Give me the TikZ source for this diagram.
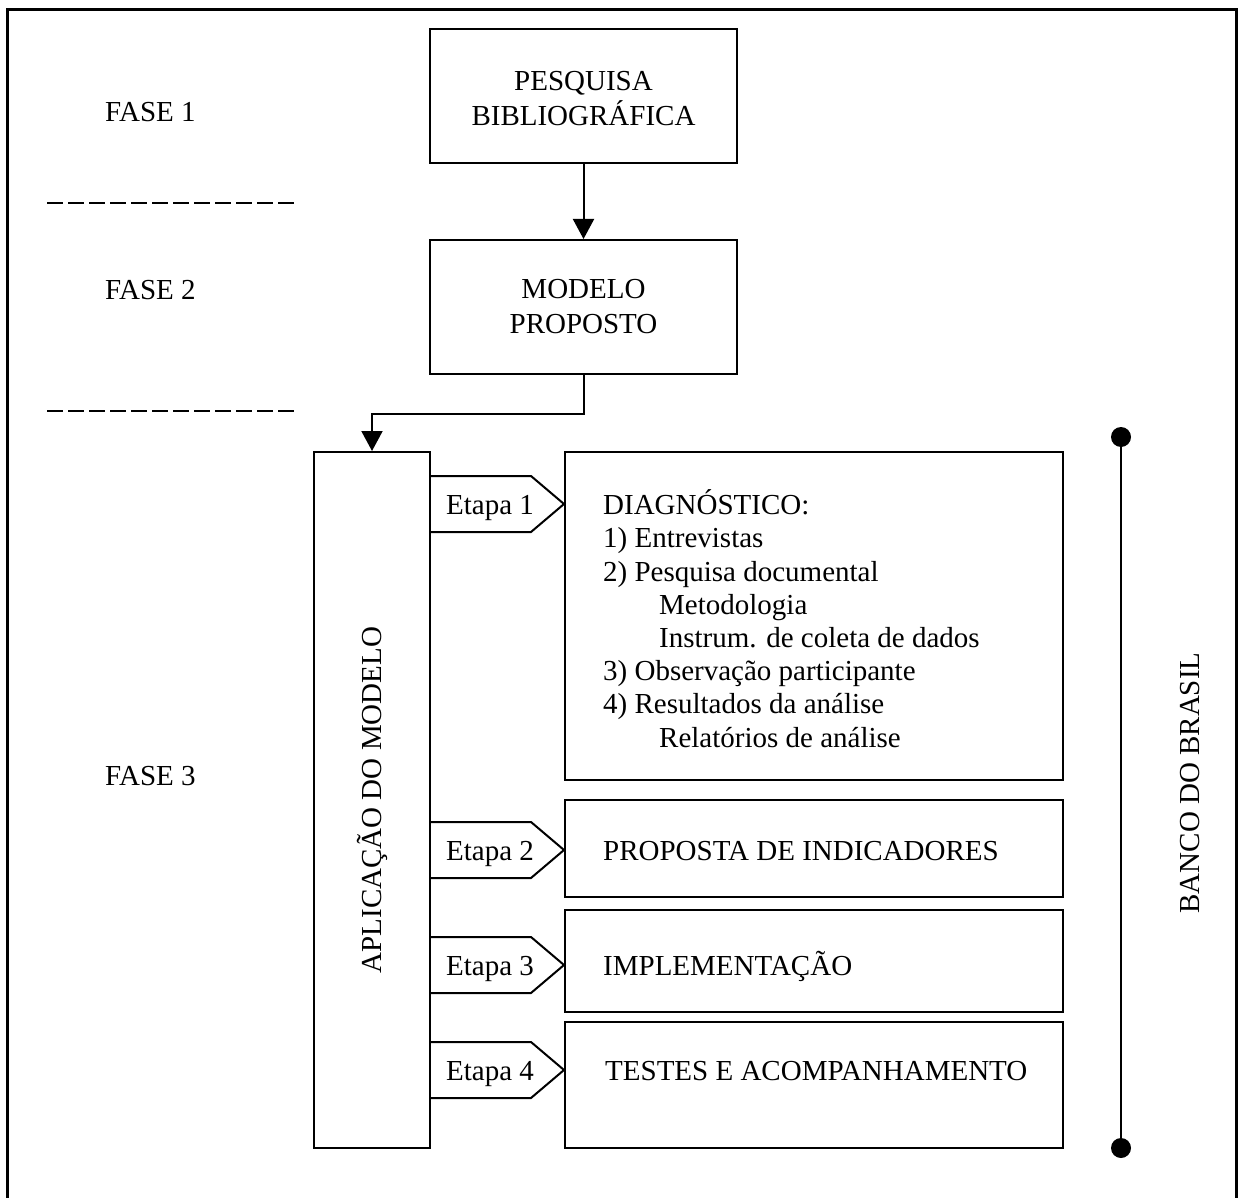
\documentclass[tikz,border=0pt]{standalone}
\usepackage{fontspec}
\setmainfont{Liberation Serif}
\usetikzlibrary{arrows.meta}
\begin{document}
\begin{tikzpicture}[x=1pt,y=-1pt,
  every node/.style={font=\fontsize{29}{33.2}\selectfont},
  box/.style={draw, line width=2pt, rectangle, inner sep=0pt},
  lbl/.style={inner sep=0pt, anchor=base west},
  conn/.style={line width=2pt},
  tip/.style={-{Triangle[length=20pt,width=21pt]}},
  dashrule/.style={line width=2pt, dash pattern=on 16pt off 5pt},
  etapashape/.style={line width=2pt, line join=miter}
]
\useasboundingbox (0,0) rectangle (1240,1198);

% outer frame, open at the bottom
\draw[line width=3pt] (7,1198) -- (7,10) -- (1236,10) -- (1236,1198);

% phase labels and separators
\node[lbl] (fase1) at (105,122) {FASE 1};
\node[lbl] (fase2) at (105,300) {FASE 2};
\node[lbl] (fase3) at (105,785) {FASE 3};
\coordinate (sepA1) at (47,203);  \coordinate (sepA2) at (296,203);
\coordinate (sepB1) at (47,411);  \coordinate (sepB2) at (296,411);
\draw[dashrule] (sepA1) -- (sepA2);
\draw[dashrule] (sepB1) -- (sepB2);

% phases 1 and 2
\node[box, minimum width=307pt, minimum height=134pt, align=center] (pesq) at (583.5,96) {};
\node[inner sep=0pt, align=center, font=\fontsize{29}{35}\selectfont] (pesqtxt) at ([yshift=-3pt]pesq.center) {PESQUISA\\BIBLIOGRÁFICA};
\node[box, minimum width=307pt, minimum height=134pt, align=center] (modelo) at (583.5,307) {};
\node[inner sep=0pt, align=center, font=\fontsize{29}{35}\selectfont] (modelotxt) at ([yshift=0pt]modelo.center) {MODELO\\PROPOSTO};

% phase 3: applying the model
\node[box, minimum width=116pt, minimum height=696pt] (aplic) at (372,800) {};
\node[rotate=90, inner sep=0pt] (aplictxt) at (aplic.center) {APLICAÇÃO DO MODELO};

\node[box, minimum width=498pt, minimum height=328pt] (diag) at (814,616) {};
\node[box, minimum width=498pt, minimum height=97pt] (prop) at (814,848.5) {};
\node[box, minimum width=498pt, minimum height=102pt] (impl) at (814,961) {};
\node[box, minimum width=498pt, minimum height=126pt] (test) at (814,1085) {};

% the base anchor of a multi-line node sits on its last line
\node[lbl, align=left] (diagtxt) at (603,747) {DIAGNÓSTICO:\\
1) Entrevistas\\
2) Pesquisa documental\\
\hspace*{56pt}Metodologia\\
\hspace*{56pt}Instrum. de coleta de dados\\
3) Observação participante\\
4) Resultados da análise\\
\hspace*{56pt}Relatórios de análise};
\node[lbl] (proptxt) at (603,860) {PROPOSTA DE INDICADORES};
\node[lbl] (impltxt) at (603,975) {IMPLEMENTAÇÃO};
\node[lbl] (testtxt) at (605,1080) {TESTES E ACOMPANHAMENTO};

% stage tags
\foreach \yc/\n in {504/1, 850/2, 965/3, 1070/4} {
  \draw[etapashape] (430,\yc-28) -- (531,\yc-28) -- (564,\yc) -- (531,\yc+28) -- (430,\yc+28);
  \node[inner sep=0pt, anchor=base] (etapa\n) at (490,\yc+10) {Etapa \n};
}

% connectors
\draw[conn, tip] (pesq.south) -- (modelo.north);
\draw[conn, tip] (modelo.south) -- ++(0,39) -| (aplic.north);

% scope bar
\coordinate (btop) at (1121,437);
\coordinate (bbot) at (1121,1148);
\draw[line width=2pt] (btop) -- (bbot);
\fill (btop) circle[radius=10pt];
\fill (bbot) circle[radius=10pt];
\node[rotate=90, inner sep=0pt] (banco) at (1190,783) {BANCO DO BRASIL};
\end{tikzpicture}
\end{document}
